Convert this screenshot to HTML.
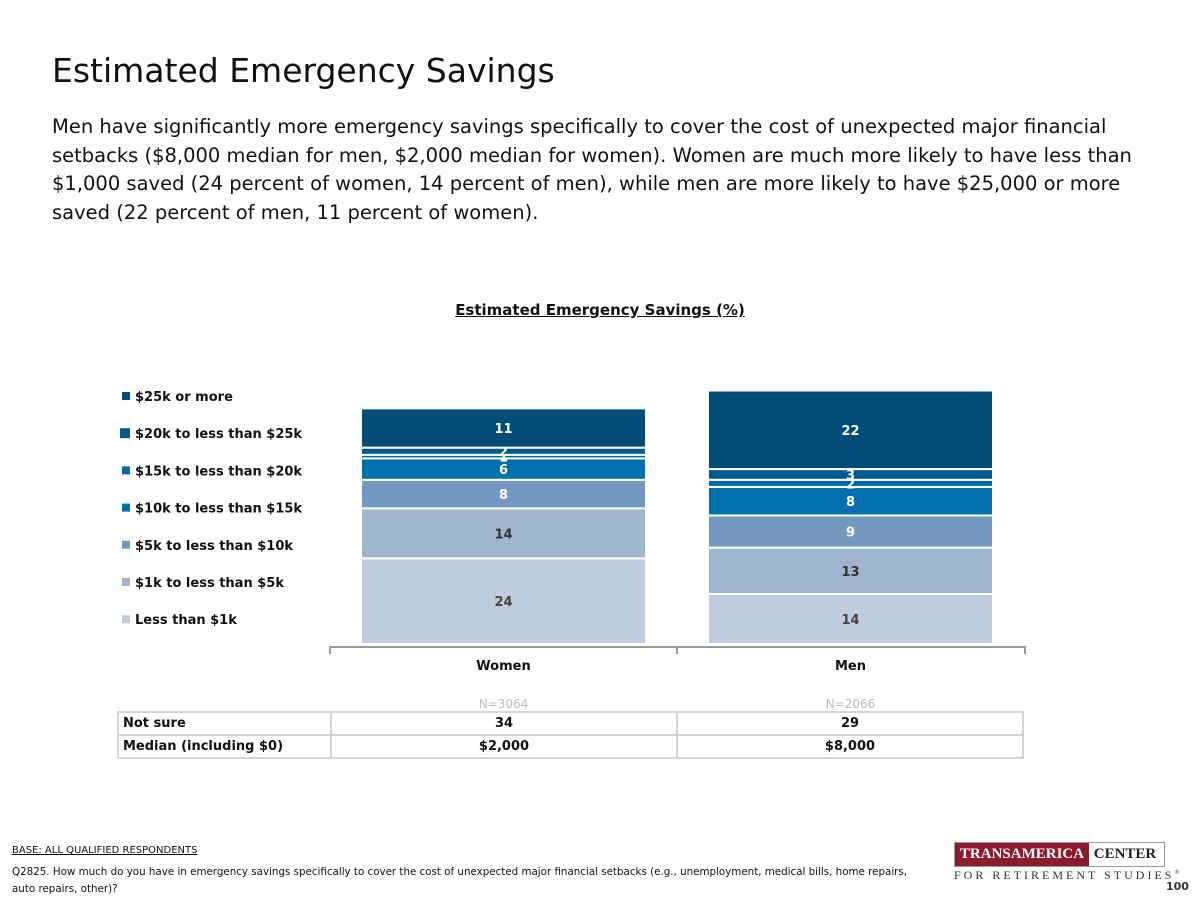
<!DOCTYPE html>
<html><head><meta charset="utf-8"><style>
body{margin:0;width:1200px;height:900px;background:#fff;font-family:"Liberation Sans","DejaVu Sans",sans-serif;position:relative;overflow:hidden}
.a{position:absolute}
.t{font-family:"DejaVu Sans","Liberation Sans",sans-serif}
td{border:2px solid #d4d4d4;font:bold 13px "DejaVu Sans",sans-serif;color:#111;text-align:center;padding:0;height:21px}
</style></head><body>
<div class="a t" style="left:52px;top:51px;font-size:33px;color:#111">Estimated Emergency Savings</div>
<div class="a t" style="left:52px;top:113px;width:1110px;font-size:19.5px;line-height:28.5px;color:#111">Men have significantly more emergency savings specifically to cover the cost of unexpected major financial setbacks ($8,000 median for men, $2,000 median for women). Women are much more likely to have less than $1,000 saved (24 percent of women, 14 percent of men), while men are more likely to have $25,000 or more saved (22 percent of men, 11 percent of women).</div>
<div class="a t" style="left:0;width:1200px;text-align:center;top:301px;font-size:15px;font-weight:bold;text-decoration:underline;color:#111">Estimated Emergency Savings (%)</div>
<svg class="a" style="left:0;top:0" width="1200" height="900" id="chart"></svg>
<table class="a" style="left:117px;top:711px;border-collapse:collapse">
<tr><td style="width:207px;text-align:left;padding-left:4px">Not sure</td><td style="width:344px">34</td><td style="width:344px">29</td></tr>
<tr><td style="text-align:left;padding-left:4px">Median (including $0)</td><td>$2,000</td><td>$8,000</td></tr>
</table>
<div class="a t" style="left:12px;top:845px;font-size:10px;text-decoration:underline;color:#111">BASE: ALL QUALIFIED RESPONDENTS</div>
<div class="a t" style="left:12px;top:864px;width:900px;font-size:10.3px;line-height:17px;color:#111">Q2825. How much do you have in emergency savings specifically to cover the cost of unexpected major financial setbacks (e.g., unemployment, medical bills, home repairs, auto repairs, other)?</div>
<div class="a" style="left:954px;top:842px;width:209px;height:23px;border:1px solid #999;font-family:'Liberation Serif',serif;font-size:15px;font-weight:bold;line-height:23px;white-space:nowrap">
<span style="display:inline-block;background:#8c1b2e;color:#fff;width:134px;text-align:center">TRANSAMERICA</span><span style="display:inline-block;width:72px;text-align:center;color:#222">CENTER</span></div>
<div class="a" style="left:954px;top:868px;font-family:'Liberation Serif',serif;font-size:12px;letter-spacing:3px;color:#333;white-space:nowrap">FOR RETIREMENT STUDIES<sup style="font-size:6px">®</sup></div>
<div class="a t" style="left:1166px;top:880px;font-size:11px;font-weight:bold;color:#333">100</div>
<script>
const categories=["Women","Men"];
const sampleSizes=["N=3064","N=2066"];
const seriesNames=["Less than $1k","$1k to less than $5k","$5k to less than $10k","$10k to less than $15k","$15k to less than $20k","$20k to less than $25k","$25k or more"];
const women=[24,14,8,6,1,2,11];
const men=[14,13,9,8,2,3,22];
const colors=["#bfccdd","#a1b5d0","#7399c0","#006fae","#0068a2","#005a8c","#004c78"];
const labelColors=["#444","#333","#fff","#fff","#fff","#fff","#fff"];
const NS="http://www.w3.org/2000/svg";
const svg=document.getElementById('chart');
const base=644, ppu=3.57;
const y=v=>base-v*ppu;
const barX=i=>361+i*347, barW=285;
function mk(t,a){const e=document.createElementNS(NS,t);for(const k in a)e.setAttribute(k,a[k]);svg.appendChild(e);return e;}
[women,men].forEach((vals,ci)=>{let cum=0;
 vals.forEach((v,si)=>{
  const r=mk('rect',{x:barX(ci),y:y(cum+v),width:barW,height:v*ppu,fill:colors[si],stroke:'#fff','stroke-width':2});
  
  
  const tx=mk('text',{x:barX(ci)+barW/2,y:y(cum+v/2)+5,'text-anchor':'middle','font-family':'DejaVu Sans,sans-serif','font-size':13,'font-weight':'bold',fill:labelColors[si]});
  tx.textContent=v;
  
  
  cum+=v;});
 const c=mk('text',{x:barX(ci)+barW/2,y:670,'text-anchor':'middle','font-family':'DejaVu Sans,sans-serif','font-size':13,'font-weight':'bold',fill:'#111'});
 c.textContent=categories[ci];
 
 
 const n=mk('text',{x:barX(ci)+barW/2,y:708,'text-anchor':'middle','font-family':'DejaVu Sans,sans-serif','font-size':12,fill:'#bbb'});
 n.textContent=sampleSizes[ci];
 
 
});
const ax=mk('path',{d:'M330,654V647H1025V654M677,647V654',stroke:'#999','stroke-width':2,fill:'none'});


for(let k=0;k<7;k++){const si=6-k, ly=396+k*37.2;
 const s=mk('rect',{x:si==5?120:122,y:ly-(si==5?5:4),width:si==5?10:8,height:si==5?10:8,fill:colors[si]});
 
 
 const t=mk('text',{x:135,y:ly+5,'font-family':'DejaVu Sans,sans-serif','font-size':13,'font-weight':'bold',fill:'#111'});
 t.textContent=seriesNames[si];
 
 
}
</script>
</body></html>
